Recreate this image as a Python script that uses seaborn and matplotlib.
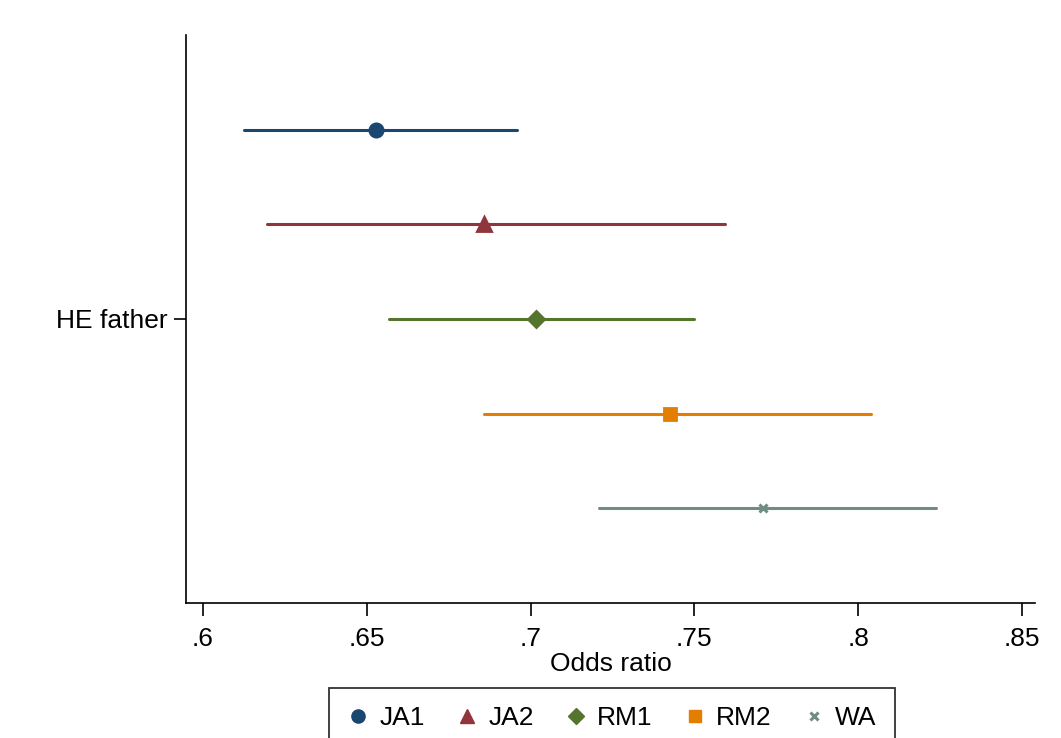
import matplotlib
matplotlib.use("Agg")
import matplotlib.pyplot as plt
from matplotlib.lines import Line2D
import seaborn as sns
import pandas as pd

# data
models = ["JA1", "JA2", "RM1", "RM2", "WA"]
estimate = [0.6528, 0.6858, 0.7017, 0.7426, 0.7709]
ci_low = [0.6125, 0.6195, 0.6568, 0.6858, 0.7209]
ci_high = [0.6958, 0.7593, 0.7499, 0.8039, 0.8237]
row_label = "HE father"
x_ticks = [0.6, 0.65, 0.7, 0.75, 0.8, 0.85]
x_tick_labels = [".6", ".65", ".7", ".75", ".8", ".85"]
x_label = "Odds ratio"

colors = ["#1a476f", "#90353b", "#55752f", "#e37e00", "#6e8e84"]
markers = ["o", "^", "D", "s", "x"]
msizes = [9.5, 9.5, 8.5, 8.5, 6]

rows = []
for m, lo, est, hi in zip(models, ci_low, estimate, ci_high):
    for v in (lo, est, hi):
        rows.append({"model": m, "value": v})
df = pd.DataFrame(rows)

sns.set_theme(style="white")
plt.rcParams["font.family"] = ["Liberation Sans", "DejaVu Sans"]
plt.rcParams["font.size"] = 19
plt.rcParams["text.color"] = "black"
plt.rcParams["axes.labelcolor"] = "black"

fig = plt.figure(figsize=(10.61, 7.38), dpi=100)
ax = fig.add_axes([186 / 1061, 1 - 603 / 738, (1035 - 186) / 1061, (603 - 35) / 738])

sns.pointplot(data=df, x="value", y="model", hue="model", order=models, hue_order=models,
              estimator="median", errorbar=("pi", 100), palette=colors, markers=markers,
              linestyles="none", dodge=False, err_kws={"linewidth": 2.2},
              legend=False, ax=ax)

# adjust marker sizes
for line, ms in zip([l for l in ax.lines if l.get_marker() not in (None, "None", "")], msizes):
    line.set_markersize(ms)
    if line.get_marker() == "x":
        line.set_markeredgewidth(2.2)

ax.set_xlim(0.5948, 0.854)
ax.set_ylim(5, -1)
ax.set_xticks(x_ticks)
ax.set_xticklabels(x_tick_labels, fontsize=19)
ax.set_yticks([2])
ax.set_yticklabels([row_label], fontsize=19)
ax.set_xlabel(x_label, fontsize=19, labelpad=1, color="black")
ax.set_ylabel("")
for s in ["top", "right"]:
    ax.spines[s].set_visible(False)
for s in ["left", "bottom"]:
    ax.spines[s].set_color("black")
    ax.spines[s].set_linewidth(1.2)
ax.tick_params(axis="x", which="major", length=9, width=1.2, color="black",
               direction="out", bottom=True, pad=8, labelcolor="black")
ax.tick_params(axis="y", which="major", length=9, width=1.2, color="black",
               direction="out", left=True, pad=4, labelcolor="black")

handles = [Line2D([], [], linestyle="none", marker=mk, color=c, markersize=ms,
                  markeredgewidth=(2.2 if mk == "x" else 1))
           for mk, c, ms in zip(markers, colors, msizes)]
leg = fig.legend(handles, models, loc="upper center", bbox_to_anchor=(612 / 1061, 1 - 688 / 738),
                 ncol=5, frameon=True, fancybox=False, edgecolor="black", fontsize=19,
                 handlelength=0.8, handletextpad=0.4, columnspacing=1.2, borderpad=0.7,
                 borderaxespad=0, labelcolor="black")
leg.get_frame().set_linewidth(1.3)

fig.savefig("out.png", dpi=100)
